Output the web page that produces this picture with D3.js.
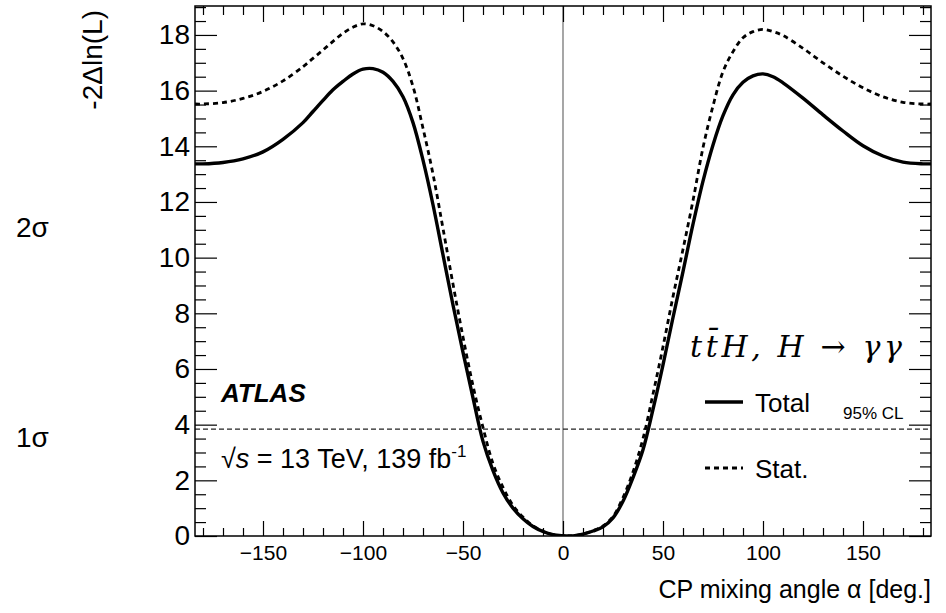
<html>
<head>
  <meta charset="utf-8">
  <script src="https://d3js.org/d3.v7.min.js"></script>
  <style>
    body{ margin:0; background:#fff; }
    svg{ display:block; font-family:"Liberation Sans", Arial, sans-serif; }
    .domain{ display:none; }
    .tick line{ stroke:#000; stroke-width:1.2; }
  </style>
</head>
<body>
  <script type="text/javascript">

    // scan points, CP mixing angle (deg.)
    var alpha    = [-184,-180,-170,-160,-150,-140,-130,-125,-120,-115,-110,-105,-100,-95,-90,-85,-80,-75,-70,-65,-60,-55,-50,-45,-40,-35,-30,-25,-20,-15,-10,-5,0,3,5,10,15,20,25,30,35,40,45,50,55,60,65,70,75,80,85,90,95,100,105,110,120,130,140,150,160,170,180,184];
    // -2 Delta ln(L), total uncertainty
    var totalNLL = [13.37,13.37,13.42,13.55,13.8,14.25,14.85,15.25,15.65,16.03,16.33,16.6,16.77,16.79,16.66,16.33,15.78,14.85,13.5,11.9,10.1,8.3,6.6,4.96,3.4,2.35,1.55,1.0,0.62,0.34,0.16,0.05,0.01,0,0.005,0.07,0.18,0.33,0.65,1.25,2.1,3.1,4.55,6.15,7.85,9.5,11.2,12.75,14.05,15.1,15.85,16.3,16.53,16.6,16.5,16.28,15.73,15.13,14.55,14.02,13.65,13.43,13.37,13.37];
    // -2 Delta ln(L), statistical only
    var statNLL  = [15.52,15.52,15.57,15.72,15.97,16.35,16.86,17.16,17.46,17.77,18.06,18.28,18.4,18.33,18.12,17.75,17.15,16.15,14.65,13.0,11.05,9.05,7.15,5.4,3.9,2.6,1.75,1.1,0.68,0.37,0.17,0.05,0.01,0,0.005,0.07,0.19,0.36,0.7,1.38,2.3,3.5,5.1,6.8,8.6,10.3,12.05,13.95,15.45,16.68,17.4,17.9,18.12,18.2,18.12,17.98,17.52,17.0,16.52,16.1,15.78,15.58,15.52,15.52];

    var xMajor = [-150,-100,-50,0,50,100,150];
    var yMajor = [0,2,4,6,8,10,12,14,16,18];
    var cl95 = 3.84;
    var sigmaLabels = [{text:"2σ", v:10.75},{text:"1σ", v:3.2}];

    var W = 946, H = 613;
    var plot = {left:195, right:931, top:6, bottom:536};

    var svg = d3.select("body").append("svg")
      .attr("width", W).attr("height", H);

    var x = d3.scaleLinear().domain([-184,184]).range([plot.left, plot.right]);
    var y = d3.scaleLinear().domain([0,19.04]).range([plot.bottom, plot.top]);

    var xMinor = d3.range(-180,181,10).filter(function(d){ return d % 50 !== 0; });
    var yMinor = d3.range(0,19.01,0.5).filter(function(d){ return d % 2 !== 0; });

    // vertical line at 0
    svg.append("line")
      .attr("x1", x(0)).attr("x2", x(0))
      .attr("y1", plot.top).attr("y2", plot.bottom)
      .attr("stroke","#777").attr("stroke-width",1.3);

    // 95% CL line
    svg.append("line")
      .attr("x1", plot.left).attr("x2", plot.right)
      .attr("y1", y(cl95)).attr("y2", y(cl95))
      .attr("stroke","#222").attr("stroke-width",1.1)
      .attr("stroke-dasharray","5,3");

    // curves
    var line = function(vals){
      return d3.line()
        .x(function(d,i){ return x(alpha[i]); })
        .y(function(d){ return y(d); })
        .curve(d3.curveCatmullRom.alpha(0.5))(vals);
    };

    svg.append("clipPath").attr("id","clip")
      .append("rect").attr("x",plot.left).attr("y",plot.top)
      .attr("width",plot.right-plot.left).attr("height",plot.bottom-plot.top);

    svg.append("path").attr("d", line(statNLL))
      .attr("clip-path","url(#clip)")
      .attr("fill","none").attr("stroke","#000")
      .attr("stroke-width",2.8).attr("stroke-dasharray","5,4");

    svg.append("path").attr("d", line(totalNLL))
      .attr("clip-path","url(#clip)")
      .attr("fill","none").attr("stroke","#000")
      .attr("stroke-width",3.4);

    // axes, ROOT style ticks on all sides
    svg.append("g").attr("transform","translate(0,"+plot.bottom+")")
      .call(d3.axisBottom(x).tickValues(xMajor).tickSize(-15).tickPadding(9))
      .selectAll("text").attr("font-size",21).attr("fill","#000").attr("font-family","Liberation Sans, Arial");
    svg.append("g").attr("transform","translate(0,"+plot.bottom+")")
      .call(d3.axisBottom(x).tickValues(xMinor).tickSize(-8).tickFormat(""));
    svg.append("g").attr("transform","translate(0,"+plot.top+")")
      .call(d3.axisTop(x).tickValues(xMajor).tickSize(-16).tickFormat(""));
    svg.append("g").attr("transform","translate(0,"+plot.top+")")
      .call(d3.axisTop(x).tickValues(xMinor).tickSize(-9).tickFormat(""));

    svg.append("g").attr("transform","translate("+plot.left+",0)")
      .call(d3.axisLeft(y).tickValues(yMajor).tickSize(-22).tickPadding(5))
      .selectAll("text").attr("font-size",28).attr("fill","#000").attr("font-family","Liberation Sans, Arial");
    svg.append("g").attr("transform","translate("+plot.left+",0)")
      .call(d3.axisLeft(y).tickValues(yMinor).tickSize(-11).tickFormat(""));
    svg.append("g").attr("transform","translate("+plot.right+",0)")
      .call(d3.axisRight(y).tickValues(yMajor).tickSize(-22).tickFormat(""));
    svg.append("g").attr("transform","translate("+plot.right+",0)")
      .call(d3.axisRight(y).tickValues(yMinor).tickSize(-11).tickFormat(""));

    // frame
    svg.append("rect")
      .attr("x",plot.left).attr("y",plot.top)
      .attr("width",plot.right-plot.left).attr("height",plot.bottom-plot.top)
      .attr("fill","none").attr("stroke","#000").attr("stroke-width",1.5);

    // axis titles
    svg.append("text")
      .attr("x", plot.right).attr("y", 598)
      .attr("text-anchor","end").attr("font-size",25)
      .text("CP mixing angle α [deg.]");

    svg.append("text")
      .attr("transform","translate(102,"+(plot.top+4)+") rotate(-90)")
      .attr("text-anchor","end").attr("font-size",28)
      .text("-2Δln(L)");

    // sigma labels
    svg.selectAll(".sig").data(sigmaLabels).enter().append("text")
      .attr("x",16).attr("y",function(d){ return y(d.v); })
      .attr("font-size",28)
      .text(function(d){ return d.text; });

    // ATLAS label
    svg.append("text")
      .attr("x",221).attr("y",402)
      .attr("font-size",26).attr("font-weight","bold").attr("font-style","italic")
      .text("ATLAS");

    var lumi = svg.append("text")
      .attr("x",221).attr("y",468).attr("font-size",27);
    lumi.append("tspan").text("√");
    lumi.append("tspan").attr("font-style","italic").text("s");
    lumi.append("tspan").text(" = 13 TeV, 139 fb");
    lumi.append("tspan").attr("font-size",17).attr("dy",-11).text("-1");

    // process label
    svg.append("text")
      .attr("x",690).attr("y",357)
      .attr("font-family","DejaVu Serif, Liberation Serif, serif")
      .attr("font-style","italic").attr("font-size",30)
      .attr("textLength",212).attr("lengthAdjust","spacing")
      .text("tt̄H, H → γγ");

    // legend
    var legend = [{name:"Total", dash:null, w:3.4, ly:402, ty:412},
                  {name:"Stat.", dash:"5,4", w:2.8, ly:468, ty:478}];
    var lg = svg.selectAll(".leg").data(legend).enter().append("g");
    lg.append("line")
      .attr("x1",705).attr("x2",743)
      .attr("y1",function(d){ return d.ly; }).attr("y2",function(d){ return d.ly; })
      .attr("stroke","#000").attr("stroke-width",function(d){ return d.w; })
      .attr("stroke-dasharray",function(d){ return d.dash; });
    lg.append("text")
      .attr("x",755).attr("y",function(d){ return d.ty; })
      .attr("font-size",26)
      .text(function(d){ return d.name; });

    svg.append("text")
      .attr("x",843).attr("y",419).attr("font-size",17)
      .text("95% CL");

  </script>
</body>
</html>
